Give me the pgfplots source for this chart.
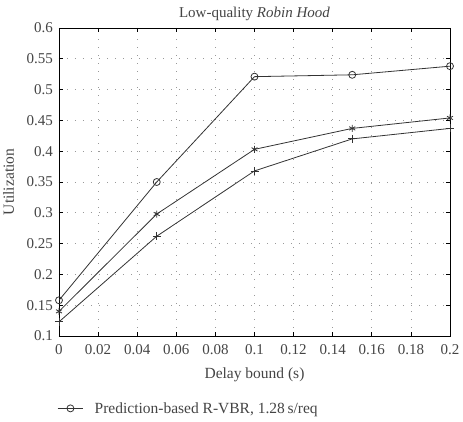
\documentclass[border=0pt]{standalone}
\usepackage{pgfplots}
\pgfplotsset{compat=1.18}
\usepackage{fontspec}
\setmainfont{Liberation Serif}
\definecolor{txt}{HTML}{444444}
\definecolor{ln}{HTML}{333333}
\begin{document}
\begin{tikzpicture}
\begin{axis}[
  at={(0,0)}, anchor=south west,
  scale only axis,
  width=391pt, height=308pt,
  xmin=0, xmax=0.2, ymin=0.1, ymax=0.6,
  xtick={0,0.02,...,0.2},
  ytick={0.1,0.15,...,0.6},
  xticklabels={0,0.02,0.04,0.06,0.08,0.1,0.12,0.14,0.16,0.18,0.2},
  yticklabels={0.1,0.15,0.2,0.25,0.3,0.35,0.4,0.45,0.5,0.55,0.6},
  tick align=inside,
  tick pos=both,
  major tick length=4pt,
  grid=major,
  grid style={gray!80, line width=0.7pt, dash pattern=on 1.2pt off 6.8pt},
  axis line style={black, line width=0.9pt},
  every tick/.style={black, line width=0.7pt},
  ticklabel style={font=\fontsize{15}{17}\selectfont, text=txt},
  xticklabel style={anchor=base, yshift=-19pt},
  yticklabel style={xshift=-2.7pt},
  label style={font=\fontsize{15.5}{17}\selectfont, text=txt},
  title style={font=\fontsize{15}{17}\selectfont, text=txt, at={(axis description cs:0.5,1)}, anchor=base, yshift=4pt},
  title={Low-quality \textit{Robin Hood}},
  xlabel={Delay bound (s)},
  ylabel={Utilization},
  xlabel style={at={(axis description cs:0.5,0)}, anchor=base, yshift=-43pt},
  ylabel style={at={(axis description cs:-0.129,0.5)}, anchor=center},
  /pgf/number format/assume math mode=true,
  legend style={at={(axis description cs:-0.005,-0.235)}, anchor=west, draw=none, fill=none,
    inner sep=0pt, font=\fontsize{15.5}{17}\selectfont, text=txt},
  legend cell align=left,
  legend image code/.code={
    \draw[mark repeat=2,mark phase=2] plot coordinates {(0cm,0cm) (0.45cm,0cm) (0.9cm,0cm)};},
  every axis plot/.append style={color=ln, line width=0.8pt},
]
\addplot[mark=o, mark size=3.5pt, mark options={solid, line width=0.8pt}] coordinates {
  (0,0.158) (0.05,0.35) (0.1,0.521) (0.15,0.524) (0.2,0.538)};
\addlegendentry{\hspace{9pt}Prediction-based R-VBR, 1.28\,s/req}
\addplot[mark=asterisk, mark size=3.5pt, forget plot] coordinates {
  (0,0.140) (0.05,0.298) (0.1,0.403) (0.15,0.437) (0.2,0.454)};
\addplot[mark=+, mark size=4pt, forget plot] coordinates {
  (0,0.123) (0.05,0.262) (0.1,0.368) (0.15,0.420) (0.2,0.437)};
\end{axis}
\pgfresetboundingbox
\path (-59pt,-86pt) rectangle (404pt,336pt);
\end{tikzpicture}
\end{document}
